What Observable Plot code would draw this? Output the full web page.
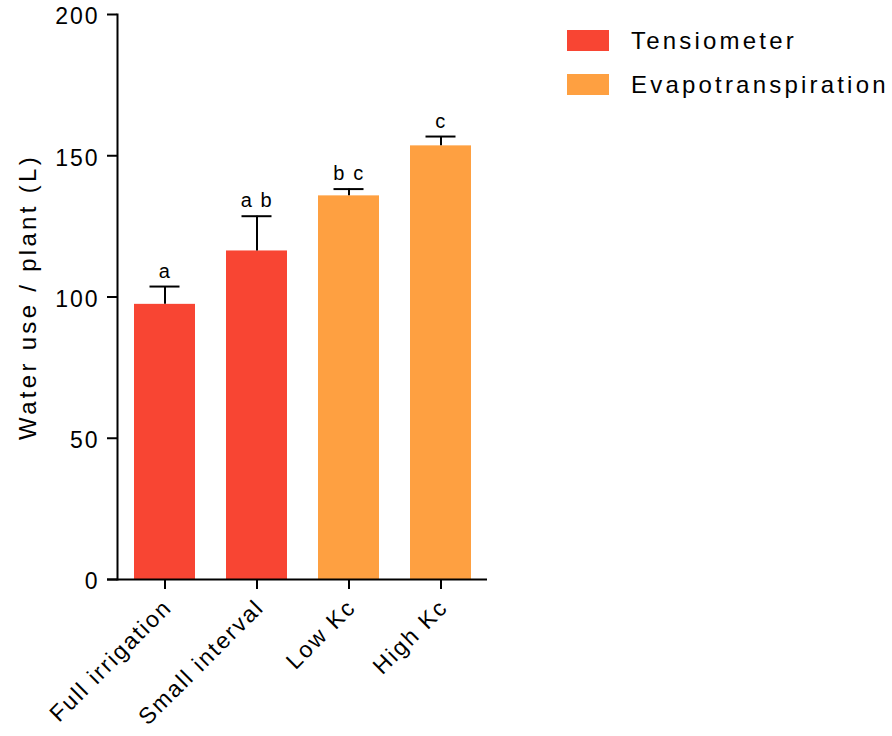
<!DOCTYPE html>
<html>
<head>
<meta charset="utf-8">
<script src="https://cdn.jsdelivr.net/npm/d3@7"></script>
<script src="https://cdn.jsdelivr.net/npm/@observablehq/plot@0.6"></script>
<style>
  html, body { margin: 0; padding: 0; background: #fff; }
  #wrap { position: relative; width: 892px; height: 736px; font-family: "Liberation Sans", Arial, sans-serif; }
  #chart svg text { letter-spacing: 1.6px; }
  #chart g[aria-label="x-axis tick label"] text { letter-spacing: 2px; }
  #chart g[aria-label="y-axis tick label"] text { letter-spacing: 2px; }
  #legend { position: absolute; left: 567px; top: 30px; }
  .row { display: flex; align-items: center; height: 21px; margin-bottom: 23px; }
  .sw { width: 42px; height: 21px; margin-right: 22px; flex: none; }
  .lab { font-size: 24px; letter-spacing: 3.2px; color: #000; line-height: 21px; white-space: nowrap; }
</style>
</head>
<body>
<div id="wrap">
  <div id="chart"></div>
  <div id="legend"></div>
</div>
<script>
const categories = ["Full irrigation", "Small interval", "Low Kc", "High Kc"];
const groups = ["Tensiometer", "Tensiometer", "Evapotranspiration", "Evapotranspiration"];
const means = [97.4, 116.3, 135.8, 153.5];
const errors = [6.3, 12.3, 2.4, 3.3];
const letters = ["a", "a b", "b c", "c"];
const seriesNames = ["Tensiometer", "Evapotranspiration"];
const seriesColors = ["#F84533", "#FEA041"];
const yTicks = [0, 50, 100, 150, 200];
const yLabel = "Water use / plant (L)";

const data = categories.map((c, i) => ({
  cat: c, group: groups[i], mean: means[i], top: means[i] + errors[i], letter: letters[i]
}));

const chart = Plot.plot({
  width: 892,
  height: 736,
  marginLeft: 117,
  marginRight: 405,
  marginTop: 14,
  marginBottom: 157,
  style: { fontFamily: "Liberation Sans, Arial, sans-serif", color: "#000", background: "#fff" },
  x: { domain: categories, paddingInner: 0.34, paddingOuter: 0.173 },
  y: { domain: [0, 200] },
  color: { domain: seriesNames, range: seriesColors },
  marks: [
    Plot.barY(data, { x: "cat", y: "mean", fill: "group" }),
    Plot.ruleX(data, { x: "cat", y1: "mean", y2: "top", stroke: "#000", strokeWidth: 2 }),
    Plot.tickY(data, { x: "cat", y: "top", stroke: "#000", strokeWidth: 2, insetLeft: 15.5, insetRight: 15.5 }),
    Plot.text(data, { x: "cat", y: "top", text: "letter", lineAnchor: "bottom", dy: -9, fontSize: 20, fill: "#000" }),
    Plot.axisY({ ticks: yTicks, tickSize: 10, strokeWidth: 2, text: null, label: null }),
    Plot.axisY({ ticks: yTicks, tickSize: 0, tickPadding: 18, fontSize: 23, label: null, dy: 2.5 }),
    Plot.frame({ anchor: "left", stroke: "#000", strokeWidth: 2 }),
    Plot.axisX({ tickSize: 10, strokeWidth: 2, text: null, label: null }),
    Plot.axisX({ tickSize: 0, tickPadding: 24, tickRotate: -45, fontSize: 23, label: null, dx: 3 }),
    Plot.ruleY([0], { insetLeft: -10, stroke: "#000", strokeWidth: 2 }),
    Plot.text([yLabel], { frameAnchor: "left", textAnchor: "middle", rotate: -90, lineAnchor: "bottom", dx: -82, fontSize: 24, fill: "#000" })
  ]
});
document.getElementById("chart").appendChild(chart);
d3.select(chart).selectAll("text").filter(function () { return this.textContent === yLabel; })
  .style("letter-spacing", "3.3px");

const legend = document.getElementById("legend");
seriesNames.forEach((name, i) => {
  const row = document.createElement("div");
  row.className = "row";
  const sw = document.createElement("div");
  sw.className = "sw";
  sw.style.background = seriesColors[i];
  const lab = document.createElement("div");
  lab.className = "lab";
  lab.textContent = name;
  row.appendChild(sw);
  row.appendChild(lab);
  legend.appendChild(row);
});
</script>
</body>
</html>
